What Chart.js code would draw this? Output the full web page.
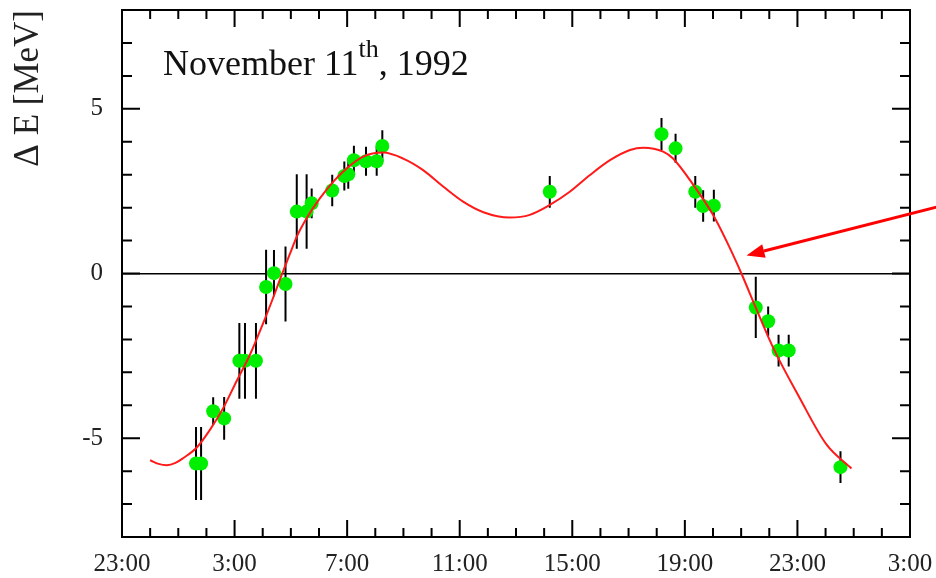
<!DOCTYPE html>
<html>
<head>
<meta charset="utf-8">
<script src="https://cdn.jsdelivr.net/npm/chart.js@4.4.1/dist/chart.umd.min.js"></script>
<style>
  html, body { margin: 0; padding: 0; background: #fff; }
  canvas { display: block; }
</style>
</head>
<body>
<canvas id="chart" width="936" height="578"></canvas>
<script>
// hours counted from 23:00 on Nov 10
const obsHours = [2.63, 2.81, 3.24, 3.63, 4.17, 4.37, 4.76, 5.12, 5.40, 5.81, 6.21, 6.56, 6.74, 7.47, 7.90, 8.04, 8.24, 8.67, 9.05, 9.25, 15.20, 19.17, 19.67, 20.37, 20.65, 21.03, 22.52, 22.96, 23.33, 23.69, 25.53];
const obsDE    = [-5.77, -5.77, -4.18, -4.40, -2.65, -2.65, -2.65, -0.41, 0.01, -0.32, 1.88, 1.88, 2.13, 2.52, 2.96, 3.01, 3.44, 3.41, 3.41, 3.87, 2.48, 4.23, 3.80, 2.48, 2.05, 2.06, -1.03, -1.45, -2.34, -2.34, -5.88];
const obsErr   = [1.11, 1.11, 0.42, 0.65, 1.15, 1.15, 1.15, 1.13, 0.70, 1.14, 1.13, 1.13, 0.45, 0.48, 0.44, 0.44, 0.44, 0.44, 0.44, 0.48, 0.48, 0.49, 0.44, 0.48, 0.48, 0.48, 0.93, 0.45, 0.48, 0.48, 0.48];

const fitHours = [1.00, 1.30, 1.59, 1.90, 2.18, 2.65, 3.13, 3.60, 4.07, 4.55, 5.02, 5.32, 5.67, 5.97, 6.21, 6.56, 7.03, 7.51, 7.98, 8.57, 9.28, 9.99, 10.70, 11.41, 12.12, 12.84, 13.78, 14.49, 15.20, 15.91, 16.63, 17.34, 18.05, 18.52, 19.23, 19.58, 20.30, 21.00, 21.60, 22.01, 22.55, 23.14, 24.08, 25.03, 25.92];
const fitDE    = [-5.67, -5.78, -5.82, -5.75, -5.60, -5.29, -4.74, -4.08, -3.27, -2.46, -1.50, -0.85, -0.05, 0.60, 1.12, 1.68, 2.28, 2.79, 3.19, 3.55, 3.67, 3.49, 3.14, 2.64, 2.18, 1.86, 1.70, 1.78, 2.08, 2.48, 2.99, 3.44, 3.75, 3.82, 3.70, 3.49, 2.69, 1.78, 0.77, 0.00, -1.10, -2.26, -3.78, -5.19, -5.92];

const xRange = [0, 28];
const yRange = [-8, 8];
const xLabelEvery = 4;   // 23:00, 3:00, 7:00 ...
const yLabelEvery = 5;

// arrow annotation, in data units (from -> to)
const arrowFrom = [29.0, 2.03];
const arrowTo = [22.19, 0.55];

const serif = "'Liberation Serif', 'DejaVu Serif', serif";

function hourLabel(v) {
  return ((23 + v) % 24) + ':00';
}

// error bars as vertical segments split by nulls
const errPts = [];
obsHours.forEach(function(h, i) {
  errPts.push({ x: h, y: obsDE[i] - obsErr[i] });
  errPts.push({ x: h, y: obsDE[i] + obsErr[i] });
  errPts.push({ x: h, y: null });
});

function noPad(s) {
  s.paddingTop = 0; s.paddingBottom = 0;
  s.paddingLeft = 0; s.paddingRight = 0;
}

const framePlugin = {
  id: 'frame',
  afterDraw(chart) {
    const ctx = chart.ctx;
    const a = chart.chartArea;
    const xs = chart.scales.x, ys = chart.scales.y;
    ctx.save();
    ctx.strokeStyle = '#000';
    ctx.lineWidth = 2;
    ctx.strokeRect(a.left, a.top, a.right - a.left, a.bottom - a.top);
    ctx.beginPath();
    xs.ticks.forEach(function(t) {
      const px = xs.getPixelForValue(t.value);
      const len = t.value % xLabelEvery === 0 ? 17 : 9;
      ctx.moveTo(px, a.bottom); ctx.lineTo(px, a.bottom - len);
      ctx.moveTo(px, a.top); ctx.lineTo(px, a.top + len);
    });
    ys.ticks.forEach(function(t) {
      const py = ys.getPixelForValue(t.value);
      const len = t.value % yLabelEvery === 0 ? 18 : 10;
      ctx.moveTo(a.left, py); ctx.lineTo(a.left + len, py);
      ctx.moveTo(a.right, py); ctx.lineTo(a.right - len, py);
    });
    ctx.stroke();

    // title
    ctx.fillStyle = '#111';
    ctx.textBaseline = 'alphabetic';
    ctx.textAlign = 'left';
    let tx = a.left + 41, ty = a.top + 65;
    ctx.font = '36px ' + serif;
    ctx.fillText('November 11', tx, ty);
    tx += ctx.measureText('November 11').width;
    ctx.font = '26px ' + serif;
    ctx.fillText('th', tx, ty - 18);
    tx += ctx.measureText('th').width;
    ctx.font = '36px ' + serif;
    ctx.fillText(', 1992', tx, ty);

    // arrow
    const x0 = xs.getPixelForValue(arrowFrom[0]), y0 = ys.getPixelForValue(arrowFrom[1]);
    const x1 = xs.getPixelForValue(arrowTo[0]), y1 = ys.getPixelForValue(arrowTo[1]);
    const ang = Math.atan2(y1 - y0, x1 - x0);
    const hl = 18, hw = 7;
    const bx = x1 - hl * Math.cos(ang), by = y1 - hl * Math.sin(ang);
    ctx.strokeStyle = '#ff0000';
    ctx.fillStyle = '#ff0000';
    ctx.lineWidth = 3;
    ctx.beginPath();
    ctx.moveTo(x0, y0); ctx.lineTo(bx, by);
    ctx.stroke();
    ctx.beginPath();
    ctx.moveTo(x1, y1);
    ctx.lineTo(bx + hw * Math.sin(ang), by - hw * Math.cos(ang));
    ctx.lineTo(bx - hw * Math.sin(ang), by + hw * Math.cos(ang));
    ctx.closePath();
    ctx.fill();
    ctx.restore();
  }
};

new Chart(document.getElementById('chart'), {
  type: 'scatter',
  data: {
    datasets: [{
      label: 'fit',
      data: fitHours.map(function(h, i) { return { x: h, y: fitDE[i] }; }),
      showLine: true, borderColor: '#ff1a1a', borderWidth: 2,
      cubicInterpolationMode: 'monotone',
      pointRadius: 0, order: 0
    }, {
      label: 'data',
      data: obsHours.map(function(h, i) { return { x: h, y: obsDE[i] }; }),
      backgroundColor: '#00ee00', borderWidth: 0,
      pointRadius: 7, order: 1
    }, {
      label: 'errors',
      data: errPts,
      showLine: true, spanGaps: false,
      borderColor: '#000', borderWidth: 2,
      pointRadius: 0, order: 2
    }]
  },
  options: {
    responsive: false,
    animation: false,
    layout: { padding: { top: 10, right: 26, left: 0, bottom: 0 } },
    plugins: { legend: { display: false }, tooltip: { enabled: false } },
    scales: {
      x: {
        type: 'linear', min: xRange[0], max: xRange[1],
        afterFit: function(s) { s.height = 41; noPad(s); },
        border: { display: false },
        grid: { display: false, drawTicks: false },
        ticks: {
          stepSize: 1, autoSkip: false, maxRotation: 0, padding: 12,
          color: '#222', font: { family: serif, size: 25 },
          callback: function(v) { return v % xLabelEvery === 0 ? hourLabel(v) : ''; }
        }
      },
      y: {
        min: yRange[0], max: yRange[1],
        afterFit: function(s) { s.width = 122; noPad(s); },
        border: { display: false },
        grid: {
          drawTicks: false, lineWidth: 1.5,
          color: function(c) { return c.tick && c.tick.value === 0 ? '#000' : 'rgba(0,0,0,0)'; }
        },
        ticks: {
          stepSize: 1, autoSkip: false, padding: 19,
          color: '#222', font: { family: serif, size: 25 },
          callback: function(v) { return v % yLabelEvery === 0 ? String(v) : ''; }
        },
        title: {
          display: true, text: 'Δ E [MeV]', align: 'end',
          color: '#222', font: { family: serif, size: 35 },
          padding: { top: 8, bottom: 0 }
        }
      }
    }
  },
  plugins: [framePlugin]
});
</script>
</body>
</html>
